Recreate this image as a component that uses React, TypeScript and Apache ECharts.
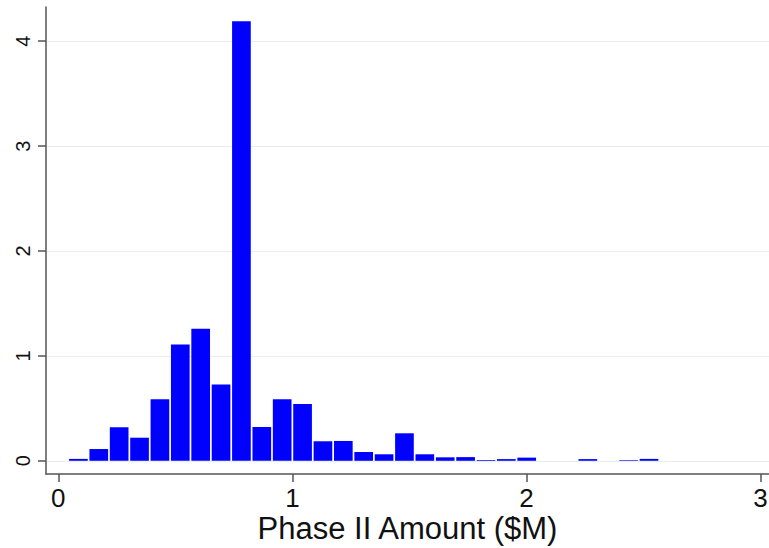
import React, { useEffect, useRef } from "react";
import * as echarts from "echarts";

// Histogram bins (Phase II Amount, $M)
const binStart = 0.0424;
const binWidth = 0.08705;
const densities = [
  0.018, 0.112, 0.319, 0.22, 0.586, 1.109, 1.258, 0.727, 4.19, 0.322,
  0.586, 0.541, 0.186, 0.189, 0.084, 0.062, 0.262, 0.062, 0.033, 0.035,
  0.007, 0.016, 0.03, 0, 0, 0.016, 0, 0.006, 0.018,
];
const xTicks = [0, 1, 2, 3];
const yTicks = [0, 1, 2, 3, 4];
const xTitle = "Phase II Amount ($M)";

const xMin = -0.0525;
const xMax = 3.036;
const yMin = -0.126;
const yMax = 4.326;

export default function App() {
  const ref = useRef<HTMLDivElement>(null);
  useEffect(() => {
    if (!ref.current) return;
    const chart = echarts.init(ref.current, null, { renderer: "svg" });
    const data = densities.map((d, i) => [
      binStart + i * binWidth,
      binStart + (i + 1) * binWidth,
      d,
    ]);
    chart.setOption({
      animation: false,
      backgroundColor: "#ffffff",
      grid: {
        left: 46,
        top: 7,
        right: 0,
        bottom: 74,
        containLabel: false,
        outerBoundsMode: "none",
      },
      xAxis: {
        type: "value",
        min: xMin,
        max: xMax,
        name: xTitle,
        nameLocation: "middle",
        nameGap: 39,
        nameMoveOverlap: false,
        nameTextStyle: {
          fontFamily: "Liberation Sans",
          fontSize: 31,
          lineHeight: 31,
          color: "#111",
        },
        axisLine: { show: true, onZero: false, lineStyle: { color: "#555", width: 1.5 } },
        axisTick: {
          show: true,
          length: 8,
          customValues: xTicks,
          lineStyle: { color: "#555", width: 1.5 },
        },
        axisLabel: {
          customValues: xTicks,
          fontFamily: "Liberation Sans",
          fontSize: 26,
          lineHeight: 22,
          color: "#111",
          margin: 13,
        },
        splitLine: { show: false },
      },
      yAxis: {
        type: "value",
        min: yMin,
        max: yMax,
        axisLine: { show: true, onZero: false, lineStyle: { color: "#555", width: 1.5 } },
        axisTick: {
          show: true,
          length: 8,
          customValues: yTicks,
          lineStyle: { color: "#555", width: 1.5 },
        },
        axisLabel: {
          customValues: yTicks,
          rotate: 90,
          fontFamily: "Liberation Sans",
          fontSize: 20,
          color: "#111",
          margin: 13,
        },
        splitLine: { show: true, lineStyle: { color: "#e6efef", width: 1.2 } },
      },
      series: [
        {
          type: "custom",
          data,
          encode: { x: [0, 1], y: 2 },
          renderItem: (params: any, api: any) => {
            const x0 = api.value(0);
            const x1 = api.value(1);
            const h = api.value(2);
            if (!h) return null;
            const p0 = api.coord([x0, 0]);
            const p1 = api.coord([x1, h]);
            return {
              type: "rect",
              shape: {
                x: p0[0] + 0.85,
                y: p1[1],
                width: p1[0] - p0[0] - 1.7,
                height: p0[1] - p1[1],
              },
              style: { fill: "#0000ff" },
            };
          },
        },
      ],
    });
    return () => chart.dispose();
  }, []);
  return (
    <div
      ref={ref}
      style={{ position: "fixed", left: 0, top: 0, width: 769, height: 548 }}
    />
  );
}
